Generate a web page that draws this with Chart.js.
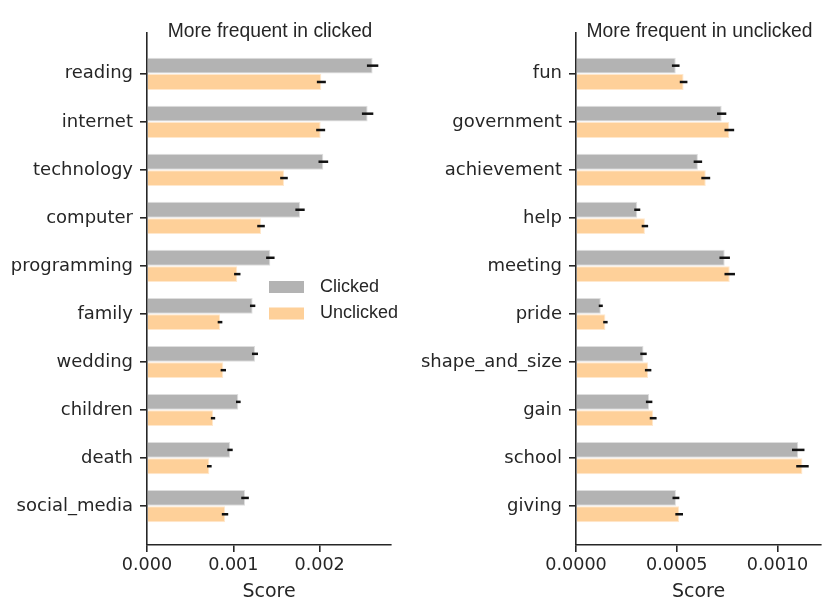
<!DOCTYPE html>
<html>
<head>
<meta charset="utf-8">
<script src="https://cdn.jsdelivr.net/npm/chart.js@4.4.1/dist/chart.umd.min.js"></script>
<style>
  html, body { margin: 0; padding: 0; background: #fff; }
  #wrap { position: relative; width: 831px; height: 612px; }
  .box { position: absolute; top: 0; height: 612px; }
</style>
</head>
<body>
<div id="wrap">
  <div class="box" style="left:0;width:415px"><canvas id="chartClicked"></canvas></div>
  <div class="box" style="left:415px;width:416px"><canvas id="chartUnclicked"></canvas></div>
</div>
<script>
// words more frequent in clicked
const clickedWords = ['reading', 'internet', 'technology', 'computer', 'programming',
                      'family', 'wedding', 'children', 'death', 'social_media'];
const clickedWordsClickedScore   = [0.002614, 0.002556, 0.002043, 0.001773, 0.001429,
                                    0.001224, 0.001251, 0.001058, 0.000962, 0.001136];
const clickedWordsClickedErr     = [0.000066, 0.000066, 0.000056, 0.000054, 0.000049,
                                    0.000031, 0.000035, 0.000027, 0.000031, 0.000044];
const clickedWordsUnclickedScore = [0.002020, 0.002012, 0.001587, 0.001321, 0.001046,
                                    0.000846, 0.000884, 0.000765, 0.000722, 0.000904];
const clickedWordsUnclickedErr   = [0.000052, 0.000052, 0.000044, 0.000044, 0.000037,
                                    0.000027, 0.000031, 0.000025, 0.000027, 0.000037];

// words more frequent in unclicked
const unclickedWords = ['fun', 'government', 'achievement', 'help', 'meeting',
                        'pride', 'shape_and_size', 'gain', 'school', 'giving'];
const unclickedWordsClickedScore   = [0.000495, 0.000723, 0.000605, 0.000304, 0.000738,
                                      0.000123, 0.000335, 0.000363, 0.001103, 0.000496];
const unclickedWordsClickedErr     = [0.000019, 0.000023, 0.000021, 0.000015, 0.000026,
                                      0.000010, 0.000016, 0.000016, 0.000031, 0.000017];
const unclickedWordsUnclickedScore = [0.000534, 0.000761, 0.000644, 0.000342, 0.000763,
                                      0.000146, 0.000358, 0.000383, 0.001124, 0.000512];
const unclickedWordsUnclickedErr   = [0.000019, 0.000024, 0.000022, 0.000016, 0.000026,
                                      0.000011, 0.000016, 0.000017, 0.000031, 0.000019];

const seriesNames = ['Clicked', 'Unclicked'];
const leftTicks = [0, 0.001, 0.002];
const rightTicks = [0, 0.0005, 0.0010];

const GRAY = 'rgb(179,179,179)';
const ORANGE = 'rgb(254,208,153)';
const INK = '#262626';

// bars are placed on a linear index axis so the padding above/below matches the original
const toPoints = (vals, errs) => vals.map((v, i) => ({ x: v, y: i, err: errs[i] }));

const errorBars = {
  id: 'errorBars',
  afterDatasetsDraw(chart) {
    const ctx = chart.ctx;
    const xs = chart.scales.x;
    ctx.save();
    ctx.strokeStyle = '#111';
    ctx.lineWidth = 2.5;
    chart.data.datasets.forEach((ds, di) => {
      const meta = chart.getDatasetMeta(di);
      meta.data.forEach((bar, i) => {
        const p = ds.data[i];
        ctx.beginPath();
        ctx.moveTo(xs.getPixelForValue(p.x - p.err), bar.y);
        ctx.lineTo(xs.getPixelForValue(p.x + p.err), bar.y);
        ctx.stroke();
      });
    });
    ctx.restore();
  }
};

const panelTitle = {
  id: 'panelTitle',
  afterDraw(chart, args, opts) {
    const ctx = chart.ctx;
    const a = chart.chartArea;
    ctx.save();
    ctx.fillStyle = INK;
    ctx.font = '19.3px "Liberation Sans", Arial, sans-serif';
    ctx.textAlign = 'center';
    ctx.textBaseline = 'alphabetic';
    ctx.fillText(opts.text, (a.left + a.right) / 2 + opts.shift, 37);
    ctx.restore();
  }
};

const innerLegend = {
  id: 'innerLegend',
  afterDraw(chart, args, opts) {
    if (!opts.show) return;
    const ctx = chart.ctx;
    const a = chart.chartArea;
    const x0 = a.left + 122, y0 = 281;
    ctx.save();
    ctx.font = '18px "Liberation Sans", Arial, sans-serif';
    ctx.textBaseline = 'middle';
    chart.data.datasets.forEach((ds, i) => {
      const y = y0 + i * 26.5;
      ctx.fillStyle = ds.backgroundColor;
      ctx.fillRect(x0, y, 35, 12);
      ctx.fillStyle = INK;
      ctx.fillText(ds.label, x0 + 51, y + 6);
    });
    ctx.restore();
  }
};

function makePanel(canvasId, words, cVals, cErr, uVals, uErr, xMax, ticks, decimals, yAxisWidth, padRight, title, titleShift, showLegend) {
  return new Chart(document.getElementById(canvasId), {
    type: 'bar',
    data: {
      datasets: [
        { label: seriesNames[0], data: toPoints(cVals, cErr), backgroundColor: GRAY,
          borderColor: 'rgb(222,222,222)', borderWidth: 1 },
        { label: seriesNames[1], data: toPoints(uVals, uErr), backgroundColor: ORANGE,
          borderColor: 'rgb(255,232,205)', borderWidth: 1 }
      ]
    },
    options: {
      indexAxis: 'y',
      responsive: true,
      maintainAspectRatio: false,
      animation: false,
      categoryPercentage: 0.68,
      barPercentage: 0.97,
      layout: { padding: { top: 33, right: padRight, left: 0, bottom: 0 } },
      plugins: {
        legend: { display: false },
        tooltip: { enabled: false },
        panelTitle: { text: title, shift: titleShift },
        innerLegend: { show: showLegend }
      },
      scales: {
        y: {
          type: 'linear',
          offset: false,
          reverse: true,
          min: -0.85,
          max: 9.81,
          afterFit: s => { s.width = yAxisWidth; },
          afterBuildTicks: s => { s.ticks = words.map((w, i) => ({ value: i })); },
          border: { display: true, color: INK, width: 1.6 },
          grid: { display: true, offset: false, drawOnChartArea: false, drawTicks: true, tickLength: 7, color: INK, lineWidth: 1.6 },
          ticks: {
            autoSkip: false,
            padding: 7,
            color: INK,
            font: { family: 'DejaVu Sans', size: 18 },
            callback: v => words[v] !== undefined ? words[v] : ''
          }
        },
        x: {
          type: 'linear',
          min: 0,
          max: xMax,
          afterFit: s => { s.height = 67; },
          afterBuildTicks: s => { s.ticks = ticks.map(v => ({ value: v })); },
          border: { display: true, color: INK, width: 1.6 },
          grid: { display: true, offset: false, drawOnChartArea: false, drawTicks: true, tickLength: 7, color: INK, lineWidth: 1.6 },
          ticks: {
            padding: 3,
            color: INK,
            font: { family: 'DejaVu Sans', size: 17.6 },
            callback: v => Number(v).toFixed(decimals)
          },
          title: {
            display: true,
            text: 'Score',
            color: INK,
            font: { family: 'DejaVu Sans', size: 19 },
            padding: { top: 0, bottom: 9 }
          }
        }
      }
    },
    plugins: [errorBars, panelTitle, innerLegend]
  });
}

window.addEventListener('load', () => {
  makePanel('chartClicked', clickedWords,
    clickedWordsClickedScore, clickedWordsClickedErr,
    clickedWordsUnclickedScore, clickedWordsUnclickedErr,
    0.002827, leftTicks, 3, 147, 24, 'More frequent in clicked', 1, true);
  makePanel('chartUnclicked', unclickedWords,
    unclickedWordsClickedScore, unclickedWordsClickedErr,
    unclickedWordsUnclickedScore, unclickedWordsUnclickedErr,
    0.001216, rightTicks, 4, 161, 10, 'More frequent in unclicked', 1, false);
});
</script>
</body>
</html>
